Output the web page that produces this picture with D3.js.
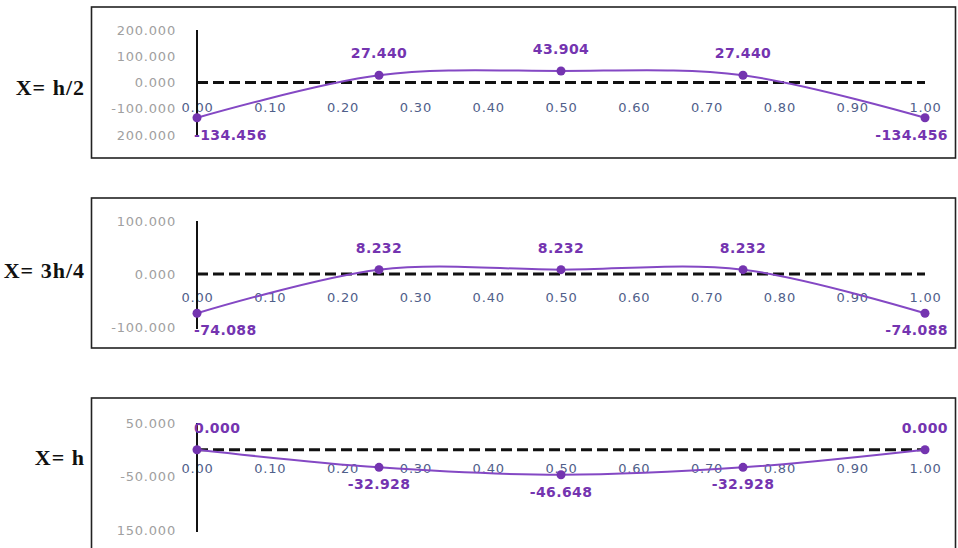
<!DOCTYPE html>
<html>
<head>
  <meta charset="utf-8">
  <title>Moment profiles</title>
  <style>
    body { margin: 0; background: #fff; }
    svg { display: block; }
    .box { fill: none; stroke: #222; stroke-width: 1.6px; }
    .side { font: bold 22px "Liberation Serif", serif; fill: #111; letter-spacing: 1px; }
    .ytick text { font: 13px "DejaVu Sans", sans-serif; fill: #a0a0a0; letter-spacing: 0.8px; }
    .xtick text { font: 13px "DejaVu Sans", sans-serif; fill: #50608a; letter-spacing: 0.8px; }
    .zero { stroke: #111; stroke-width: 3px; stroke-dasharray: 11 5; }
    .vaxis { stroke: #111; stroke-width: 2px; }
    .curve { fill: none; stroke: #8448c4; stroke-width: 2px; }
    .dot { fill: #7434b0; }
    .lbl { font: bold 14px "DejaVu Sans", sans-serif; fill: #7434b0; letter-spacing: 0.4px; }
  </style>
</head>
<body>
  <script src="https://d3js.org/d3.v7.min.js"></script>
  <script>
    // positions along the span
    const xs = [0, 0.25, 0.5, 0.75, 1];
    const xTicks = [0, 0.1, 0.2, 0.3, 0.4, 0.5, 0.6, 0.7, 0.8, 0.9, 1.0];

    const names = ["X= h/2", "X= 3h/4", "X= h"];

    const valsHalf = [-134.456, 27.440, 43.904, 27.440, -134.456];
    const valsThreeQ = [-74.088, 8.232, 8.232, 8.232, -74.088];
    const valsFull = [0.000, -32.928, -46.648, -32.928, 0.000];

    const yTicksHalf = [200, 100, 0, -100, -200];
    const yLabelsHalf = ["200.000", "100.000", "0.000", "-100.000", "200.000"];
    const yTicksThreeQ = [100, 0, -100];
    const yLabelsThreeQ = ["100.000", "0.000", "-100.000"];
    const yTicksFull = [50, -50, -150];
    const yLabelsFull = ["50.000", "-50.000", "150.000"];

    const W = 958, H = 548;
    const svg = d3.select("body").append("svg").attr("width", W).attr("height", H);

    const x = d3.scaleLinear().domain([0, 1]).range([197, 925]);

    const panels = [
      { name: names[0], vals: valsHalf, ticks: yTicksHalf, labels: yLabelsHalf,
        dom: [-200, 200], rng: [135, 30], box: [7, 158], nameY: 95, xPad: 20 },
      { name: names[1], vals: valsThreeQ, ticks: yTicksThreeQ, labels: yLabelsThreeQ,
        dom: [-100, 100], rng: [327, 221], box: [198, 348], nameY: 278, xPad: 19 },
      { name: names[2], vals: valsFull, ticks: yTicksFull, labels: yLabelsFull,
        dom: [-150, 50], rng: [530, 423], box: [398, 560], nameY: 465, xPad: 14 }
    ];

    panels.forEach(p => {
      const g = svg.append("g");
      const y = d3.scaleLinear().domain(p.dom).range(p.rng);

      g.append("rect").attr("class", "box")
        .attr("x", 91.5).attr("y", p.box[0])
        .attr("width", 864).attr("height", p.box[1] - p.box[0]);

      g.append("text").attr("class", "side")
        .attr("x", 85).attr("y", p.nameY)
        .attr("text-anchor", "end")
        .text(p.name);

      // y tick labels
      const ya = g.append("g").attr("class", "ytick")
        .attr("transform", `translate(${x(0)},0)`)
        .call(d3.axisLeft(y).tickValues(p.ticks)
          .tickFormat((d, i) => p.labels[i]).tickSize(0).tickPadding(21));
      ya.select(".domain").remove();

      // x tick labels sit just under the zero line
      const xa = g.append("g").attr("class", "xtick")
        .attr("transform", `translate(0,${y(0)})`)
        .call(d3.axisBottom(x).tickValues(xTicks)
          .tickFormat(d => d.toFixed(2)).tickSize(0).tickPadding(p.xPad));
      xa.select(".domain").remove();

      g.append("line").attr("class", "vaxis")
        .attr("x1", x(0)).attr("x2", x(0))
        .attr("y1", p.rng[1]).attr("y2", p.rng[0] + 2);

      g.append("line").attr("class", "zero")
        .attr("x1", x(0)).attr("x2", x(1))
        .attr("y1", y(0)).attr("y2", y(0));

      const pts = xs.map((d, i) => [d, p.vals[i]]);
      const line = d3.line().x(d => x(d[0])).y(d => y(d[1])).curve(d3.curveCatmullRom);
      g.append("path").attr("class", "curve").attr("d", line(pts));

      g.selectAll(".dot").data(pts).join("circle")
        .attr("class", "dot")
        .attr("cx", d => x(d[0])).attr("cy", d => y(d[1])).attr("r", 4.5);

      const lbl = g.selectAll(".lbl").data(pts).join("text")
        .attr("class", "lbl")
        .attr("text-anchor", "middle")
        .attr("dominant-baseline", "central")
        .attr("x", d => x(d[0]))
        .attr("y", d => d[1] < 0 ? y(d[1]) + 17 : y(d[1]) - 22)
        .text(d => d[1].toFixed(3));

      // keep the end labels inside the plot like the spreadsheet does
      lbl.each(function() {
        const t = d3.select(this);
        const b = this.getBBox();
        let cx = +t.attr("x");
        if (b.x < 194) cx += 194 - b.x;
        if (b.x + b.width > 948) cx -= b.x + b.width - 948;
        t.attr("x", cx);
      });
    });
  </script>
</body>
</html>
